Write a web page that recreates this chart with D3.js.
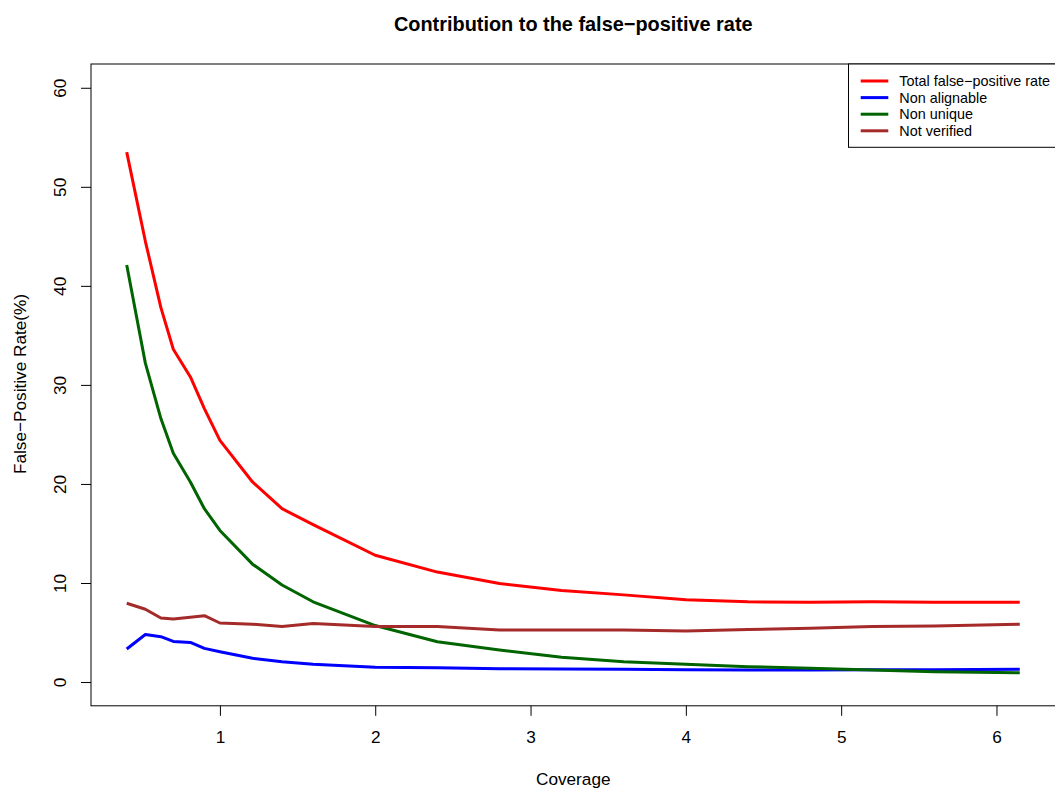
<!DOCTYPE html>
<html>
<head>
<meta charset="utf-8">
<script src="https://d3js.org/d3.v7.min.js"></script>
<style>
  body { margin: 0; background: #fff; }
  text { font-family: "Liberation Sans", Arial, sans-serif; }
</style>
</head>
<body>
<div id="chart"></div>
<script>
// coverage values (x) and the four rates (%)
const coverage = [0.4, 0.52, 0.62, 0.7, 0.81, 0.9, 1.0, 1.21, 1.4, 1.6, 2.0, 2.4, 2.8, 3.2, 3.6, 4.0, 4.4, 4.8, 5.2, 5.6, 6.15];
const totalRate = [53.5, 44.5, 37.8, 33.6, 30.8, 27.6, 24.4, 20.2, 17.5, 15.9, 12.8, 11.1, 9.95, 9.25, 8.8, 8.3, 8.1, 8.05, 8.1, 8.05, 8.05];
const nonAlignable = [3.33, 4.8, 4.58, 4.1, 4.0, 3.4, 3.06, 2.4, 2.05, 1.8, 1.5, 1.43, 1.35, 1.32, 1.3, 1.25, 1.22, 1.22, 1.25, 1.25, 1.28];
const nonUnique = [42.1, 32.2, 26.6, 23.1, 20.2, 17.5, 15.3, 11.9, 9.8, 8.1, 5.7, 4.07, 3.23, 2.5, 2.05, 1.79, 1.55, 1.38, 1.21, 1.04, 0.94];
const notVerified = [7.95, 7.35, 6.46, 6.36, 6.53, 6.7, 5.96, 5.84, 5.6, 5.9, 5.6, 5.6, 5.25, 5.25, 5.25, 5.15, 5.3, 5.42, 5.6, 5.65, 5.83];

const seriesNames = ["Total false\u2212positive rate", "Non alignable", "Non unique", "Not verified"];
const seriesColors = ["#ff0000", "#0000ff", "#006400", "#a52a2a"];
const xTicks = [1, 2, 3, 4, 5, 6];
const yTicks = [0, 10, 20, 30, 40, 50, 60];

const width = 1055, height = 788;
const plotLeft = 91, plotRight = 1055.5, plotTop = 64, plotBottom = 705.8;
const labelSize = "17.2px";

const svg = d3.select("#chart")
  .append("svg")
  .attr("width", width)
  .attr("height", height);

// R style 4% padding on the x range
const xr = d3.extent(coverage);
const pad = (xr[1] - xr[0]) * 0.04;
const x = d3.scaleLinear()
  .domain([xr[0] - pad, xr[1] + pad])
  .range([plotLeft, plotRight]);

const y = d3.scaleLinear()
  .domain([-2.4, 62.4])
  .range([plotBottom, plotTop]);

// lines
const line = d3.line()
  .x(function (d) { return x(d[0]) })
  .y(function (d) { return y(d[1]) });

const allSeries = [totalRate, nonAlignable, nonUnique, notVerified];
allSeries.forEach(function (vals, i) {
  svg.append("path")
    .datum(coverage.map(function (c, j) { return [c, vals[j]] }))
    .attr("d", line)
    .attr("fill", "none")
    .attr("stroke", seriesColors[i])
    .attr("stroke-width", 3)
    .attr("stroke-linejoin", "round");
});

// axes
const xAxis = d3.axisBottom(x).tickValues(xTicks).tickSize(10).tickPadding(15).tickFormat(d3.format("d"));
const gx = svg.append("g")
  .attr("transform", `translate(0, ${plotBottom})`)
  .call(xAxis);
gx.select(".domain").remove();
gx.selectAll("line").attr("stroke", "#000");
gx.selectAll("text")
  .attr("font-size", labelSize)
  .attr("fill", "#000")
  .attr("dy", "0.72em");

const gy = svg.append("g")
  .attr("transform", `translate(${plotLeft}, 0)`)
  .call(d3.axisLeft(y).tickValues(yTicks).tickSize(10).tickFormat(d3.format("d")));
gy.select(".domain").remove();
gy.selectAll("line").attr("stroke", "#000");
gy.selectAll("text")
  .attr("font-size", labelSize)
  .attr("fill", "#000")
  .attr("text-anchor", "middle")
  .attr("x", 0)
  .attr("dy", 0)
  .attr("transform", "translate(-25,0) rotate(-90)");

// box round the plot
svg.append("rect")
  .attr("x", plotLeft)
  .attr("y", plotTop)
  .attr("width", plotRight - plotLeft)
  .attr("height", plotBottom - plotTop)
  .attr("fill", "none")
  .attr("stroke", "#000")
  .attr("stroke-width", 1);

// titles
svg.append("text")
  .attr("x", (plotLeft + plotRight) / 2)
  .attr("y", 31)
  .attr("text-anchor", "middle")
  .attr("font-size", "19.9px")
  .attr("font-weight", "bold")
  .text("Contribution to the false\u2212positive rate");

svg.append("text")
  .attr("x", (plotLeft + plotRight) / 2)
  .attr("y", 785)
  .attr("text-anchor", "middle")
  .attr("font-size", labelSize)
  .text("Coverage");

svg.append("text")
  .attr("transform", `translate(25.5, 384) rotate(-90)`)
  .attr("text-anchor", "middle")
  .attr("font-size", labelSize)
  .text("False\u2212Positive Rate(%)");

// legend, top right
const lg = svg.append("g");
lg.append("rect")
  .attr("x", 848.5)
  .attr("y", plotTop)
  .attr("width", plotRight - 848.5)
  .attr("height", 147.3 - plotTop)
  .attr("fill", "#fff")
  .attr("stroke", "#000");

seriesNames.forEach(function (name, i) {
  const ly = 81 + i * 16.6;
  lg.append("line")
    .attr("x1", 860.7).attr("x2", 888.3)
    .attr("y1", ly).attr("y2", ly)
    .attr("stroke", seriesColors[i])
    .attr("stroke-width", 3);
  lg.append("text")
    .attr("x", 899.3)
    .attr("y", ly)
    .attr("dy", "0.35em")
    .attr("font-size", "14.4px")
    .text(name);
});
</script>
</body>
</html>
